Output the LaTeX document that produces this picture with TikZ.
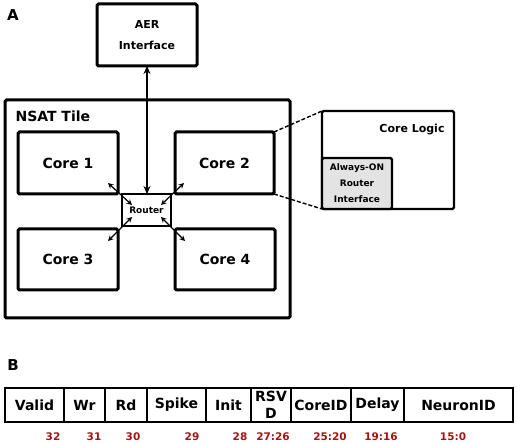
\documentclass[tikz,border=0pt]{standalone}
\usepackage{fontspec}
\setmainfont{DejaVu Sans}
\usetikzlibrary{arrows.meta,positioning}
\definecolor{bitred}{HTML}{A31515}
\tikzset{
  block/.style={draw, line width=3pt, rounded corners=1.5pt, inner sep=0pt, outer sep=0pt,
    align=center, font=\bfseries\fontsize{14}{16}\selectfont},
  smallblock/.style={block, line width=2pt, font=\bfseries\fontsize{9}{16}\selectfont},
  field/.style={draw, line width=2pt, inner sep=0pt, outer sep=0pt, minimum height=34pt,
    align=center, font=\bfseries\fontsize{14}{17}\selectfont},
  bitnum/.style={text=bitred, font=\bfseries\fontsize{10.5}{12}\selectfont},
  link/.style={line width=1.5pt, {Stealth[length=8pt,width=7pt]}-{Stealth[length=8pt,width=7pt]}},
  port/.style={line width=1.2pt, {Stealth[length=5.5pt,width=5.5pt]}-{Stealth[length=5.5pt,width=5.5pt]}},
  zoomline/.style={line width=1.4pt, dash pattern=on 4pt off 2pt}
}
\begin{document}
\begin{tikzpicture}[x=1pt,y=-1pt]
    \useasboundingbox (0,0) rectangle (517,443);
    % panel A
    \node [font=\bfseries\fontsize{15}{17}\selectfont] at (13,15) {A};
    \node (aer) [block, minimum width=100pt, minimum height=62pt, font=\bfseries\fontsize{11}{21}\selectfont] at (147,35) {AER\\Interface};
    \node (tile) [block, minimum width=285pt, minimum height=218pt] at (147.5,209) {};
    \node [anchor=west, font=\bfseries\fontsize{14}{16}\selectfont] at (12,116) {NSAT Tile};
    \node (core1) [block, minimum width=100pt, minimum height=62pt] at (68,163) {Core 1};
    \node (core2) [block, minimum width=99pt, minimum height=62pt] at (224.5,163) {Core 2};
    \node (core3) [block, minimum width=100pt, minimum height=61pt] at (68,259.5) {Core 3};
    \node (core4) [block, minimum width=100pt, minimum height=61pt] at (225,259.5) {Core 4};
    \node (router) [smallblock, rounded corners=0pt, minimum width=49pt, minimum height=32pt] at (146.5,210) {Router};
    \draw [link] (aer.south) -- (aer.south |- router.north);
    % router ports
    \coordinate (tlo) at (108,183);  \coordinate (tli) at (132,205);
    \coordinate (tro) at (184,183);  \coordinate (tri) at (161,205);
    \coordinate (blo) at (108,241);  \coordinate (bli) at (132,217);
    \coordinate (bro) at (185,241);  \coordinate (bri) at (161,217);
    \draw [port] (tlo) -- (tli);
    \draw [port] (tro) -- (tri);
    \draw [port] (blo) -- (bli);
    \draw [port] (bro) -- (bri);
    % zoom on core 2
    \node (logic) [block, line width=2.4pt, minimum width=132pt, minimum height=98pt] at (388,160) {};
    \node [font=\bfseries\fontsize{11}{13}\selectfont] at (412,130) {Core Logic};
    \node (aori) [smallblock, line width=2.4pt, fill=gray!22, minimum width=70pt, minimum height=51pt] at (357,183.5) {Always-ON\\Router\\Interface};
    \draw [zoomline] (core2.north east) -- (logic.north west);
    \draw [zoomline] (core2.south east) -- (logic.south west);
    % panel B
    \node [font=\bfseries\fontsize{15}{17}\selectfont] at (13,365) {B};
    \node (valid) [field, minimum width=59pt, anchor=west] at (5,405) {Valid};
    \node (wr) [field, minimum width=41pt, right=0pt of valid] {Wr};
    \node (rd) [field, minimum width=42pt, right=0pt of wr] {Rd};
    \node (spike) [field, minimum width=59pt, right=0pt of rd] {Spike};
    \node (init) [field, minimum width=45pt, right=0pt of spike] {Init};
    \node (rsvd) [field, minimum width=40pt, right=0pt of init] {RSV\\D};
    \node (coreid) [field, minimum width=60pt, right=0pt of rsvd] {CoreID};
    \node (delay) [field, minimum width=53pt, right=0pt of coreid] {Delay};
    \node (neuronid) [field, minimum width=109pt, right=0pt of delay] {NeuronID};
    \node (b32) [bitnum] at (53,437) {32};
    \node (b31) [bitnum] at (94,437) {31};
    \node (b30) [bitnum] at (133,437) {30};
    \node (b29) [bitnum] at (192,437) {29};
    \node (b28) [bitnum] at (240,437) {28};
    \node (b27) [bitnum] at (273,437) {27:26};
    \node (b25) [bitnum] at (330,437) {25:20};
    \node (b19) [bitnum] at (381,437) {19:16};
    \node (b15) [bitnum] at (453,437) {15:0};
\end{tikzpicture}
\end{document}
